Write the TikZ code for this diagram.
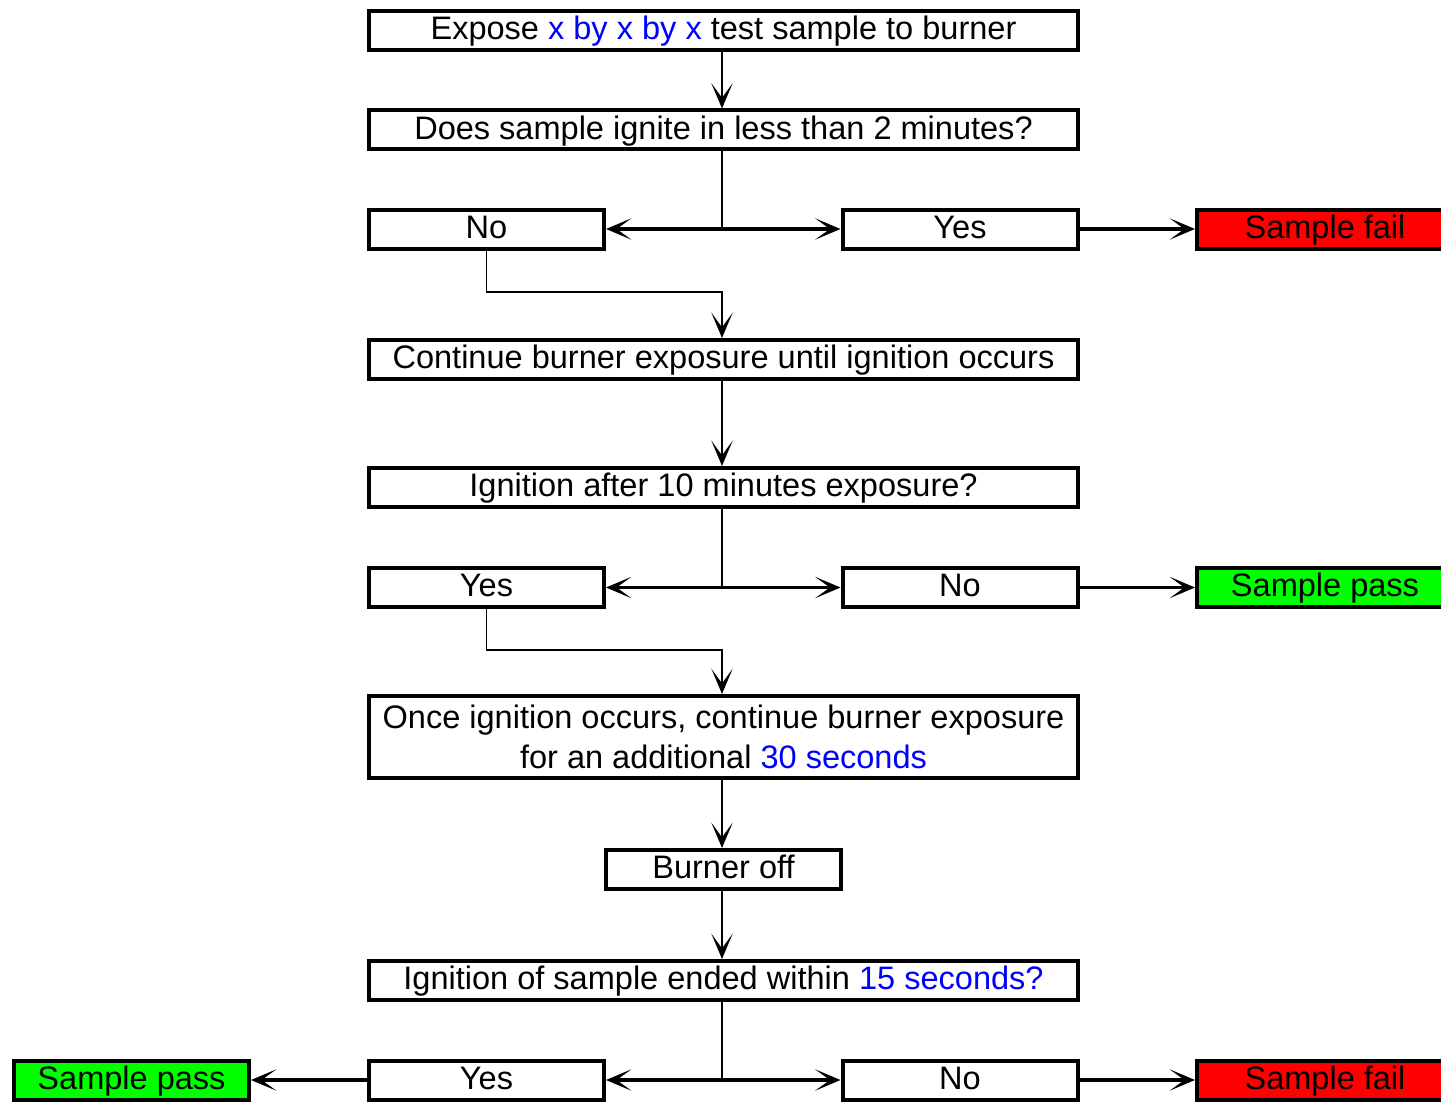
\documentclass[tikz,border=0pt]{standalone}
\usepackage{fontspec}
\setmainfont{Liberation Sans}
\usetikzlibrary{arrows.meta}
\definecolor{tblue}{RGB}{0,0,255}
\definecolor{tred}{RGB}{255,0,0}
\definecolor{tgreen}{RGB}{0,255,0}
\begin{document}
\begin{tikzpicture}[x=0.75pt,y=-0.75pt,
  box/.style={draw, line width=3pt, rectangle, inner sep=0pt, minimum height=29.25pt,
    font=\fontsize{24.4}{30}\selectfont, align=center},
  oneline/.style={text height=17.8pt, text depth=4pt},
  wide/.style={box, oneline, minimum width=531.75pt},
  small/.style={box, oneline, minimum width=176.25pt},
  endbox/.style={box, oneline, minimum width=192pt},
  arr/.style={line width=1.8pt, -{Stealth[length=19pt,width=16pt,inset=11pt]}},
  harr/.style={line width=2.3pt, -{Stealth[length=19pt,width=16pt,inset=11pt]}},
  stem/.style={line width=1pt},
  elbow/.style={line width=1.1pt, -{Stealth[length=19pt,width=16pt,inset=11pt]}}]
\useasboundingbox (0,0) rectangle (1441,1102);

\node[wide] (t1) at (723.5,30.5) {Expose \textcolor{tblue}{x by x by x} test sample to burner};
\node[wide] (q1) at (723.5,130) {Does sample ignite in less than 2 minutes?};
\node[small] (no1) at (486.5,229) {No};
\node[small] (yes1) at (960,229) {Yes};
\node[endbox, fill=tred] (fail1) at (1325,229) {Sample fail};
\node[wide] (cont) at (723.5,359.5) {Continue burner exposure until ignition occurs};
\node[wide] (q2) at (723.5,487.5) {Ignition after 10 minutes exposure?};
\node[small] (yes2) at (486.5,587.5) {Yes};
\node[small] (no2) at (960,587.5) {No};
\node[endbox, fill=tgreen] (pass1) at (1325,587.5) {Sample pass};
\node[box, minimum width=531.75pt, minimum height=61.5pt] (once) at (723.5,737) {Once ignition occurs, continue burner exposure\\for an additional \textcolor{tblue}{30 seconds}};
\node[small] (off) at (723.5,869.5) {Burner off};
\node[wide] (q3) at (723.5,980.5) {Ignition of sample ended within \textcolor{tblue}{15 seconds?}};
\node[small] (yes3) at (486.5,1080) {Yes};
\node[small] (no3) at (960,1080) {No};
\node[small, fill=tgreen] (pass2) at (131.5,1080) {Sample pass};
\node[endbox, fill=tred] (fail2) at (1325,1080) {Sample fail};

\coordinate (j1) at (722,229);
\coordinate (k1) at (722,292);
\coordinate (j2) at (722,587.5);
\coordinate (k2) at (722,650);
\coordinate (j3) at (722,1080);

\draw[arr] (t1.south -| j1) -- (q1.north -| j1);
\draw[stem] (q1.south -| j1) -- (j1);
\draw[harr] (j1) -- (no1.east);
\draw[harr] (j1) -- (yes1.west);
\draw[harr] (yes1.east) -- (fail1.west);
\draw[elbow] (no1.south) |- (k1) -- (cont.north -| k1);

\draw[arr] (cont.south -| j1) -- (q2.north -| j1);
\draw[stem] (q2.south -| j2) -- (j2);
\draw[harr] (j2) -- (yes2.east);
\draw[harr] (j2) -- (no2.west);
\draw[harr] (no2.east) -- (pass1.west);
\draw[elbow] (yes2.south) |- (k2) -- (once.north -| k2);

\draw[arr] (once.south -| j1) -- (off.north -| j1);
\draw[arr] (off.south -| j1) -- (q3.north -| j1);
\draw[stem] (q3.south -| j3) -- (j3);
\draw[harr] (j3) -- (yes3.east);
\draw[harr] (j3) -- (no3.west);
\draw[harr] (yes3.west) -- (pass2.east);
\draw[harr] (no3.east) -- (fail2.west);
\end{tikzpicture}
\end{document}
